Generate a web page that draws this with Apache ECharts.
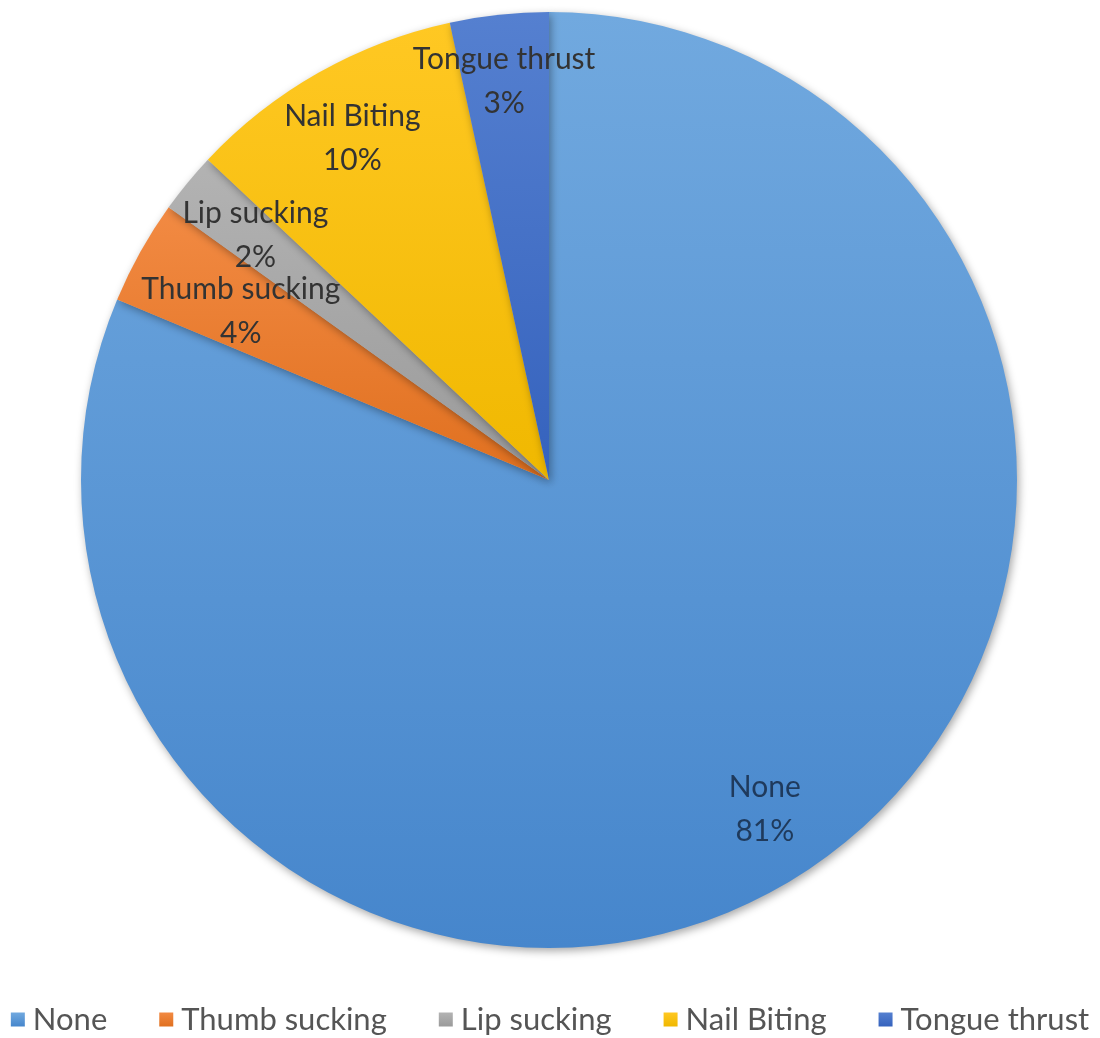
<!DOCTYPE html>
<html>
<head>
<meta charset="utf-8">
<script src="https://cdn.jsdelivr.net/npm/echarts@6/dist/echarts.min.js"></script>
<style>
	html, body { margin: 0; padding: 0; background: #fff; }
	#chart { width: 1100px; height: 1038px; }
</style>
</head>
<body>
<div id="chart"></div>
<script>
// 数据
let categories = ['None', 'Thumb sucking', 'Lip sucking', 'Nail Biting', 'Tongue thrust'];
let values = [81.3, 3.6, 2.1, 9.6, 3.4];
// 每个扇区的渐变色 上浅下深
let color_top = ['#71a9df', '#f28a43', '#b3b3b3', '#ffc823', '#5580d0'];
let color_bottom = ['#4686cc', '#e0701f', '#9a9a9a', '#f0b800', '#3562bd'];
let legend_color = ['#5b9bd5', '#ed7d31', '#a5a5a5', '#ffc000', '#4472c4'];
// 标签微调 (best fit 的偏移)
let label_shift = [[-2, 2], [35, 23], [10, 5], [-3, 0], [-3, -8]];

let pie_data = categories.map((name, i) => ({
	name: name,
	value: values[i],
	itemStyle: {
		color: {
			type: 'linear', x: 0, y: 0, x2: 0, y2: 1,
			colorStops: [
				{ offset: 0, color: color_top[i] },
				{ offset: 1, color: color_bottom[i] },
			],
		},
	},
}));

let chart = echarts.init(document.getElementById('chart'));
let option = {
	animation: false,
	color: legend_color,
	legend: {
		top: 999,
		left: 'center',
		itemWidth: 14,
		itemHeight: 14,
		itemGap: 52,
		icon: 'rect',
		textStyle: { fontFamily: 'Lato', fontSize: 31, color: '#555555', padding: [0, 0, 0, 3] },
		data: categories,
	},
	series: [
		{
			type: 'pie',
			center: [549, 480],
			radius: [0, 468],
			startAngle: 90,
			clockwise: true,
			label: { show: false },
			labelLine: { show: false },
			emphasis: { disabled: true },
			itemStyle: {
				borderWidth: 0,
				shadowBlur: 8,
				shadowColor: 'rgba(0,0,0,0.35)',
				shadowOffsetX: 2,
				shadowOffsetY: 3,
			},
			data: pie_data,
		},
		{
			// 只用来放标签 透明的外环
			type: 'pie',
			center: [549, 480],
			radius: [312, 468],
			startAngle: 90,
			clockwise: true,
			silent: true,
			avoidLabelOverlap: false,
			legendHoverLink: false,
			itemStyle: { color: 'rgba(0,0,0,0)' },
			label: {
				show: true,
				position: 'inside',
				fontFamily: 'Lato',
				fontSize: 30,
				lineHeight: 44,
				color: '#333333',
				formatter: (p) => `${p.name}\n${Math.round(p.percent)}%`,
			},
			labelLayout: (p) => ({
				hideOverlap: false,
				dx: label_shift[p.dataIndex][0],
				dy: label_shift[p.dataIndex][1],
			}),
			emphasis: { disabled: true },
			data: categories.map((name, i) => ({
				name: name,
				value: values[i],
				label: i === 0 ? { color: '#1f3a5c' } : {},
			})),
		},
	],
};
chart.setOption(option);
</script>
</body>
</html>
